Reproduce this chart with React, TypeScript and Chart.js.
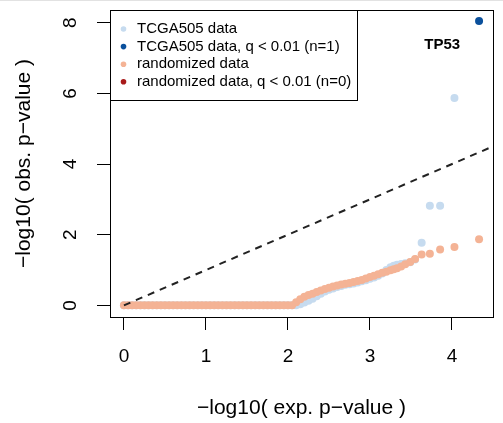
import { useEffect, useRef } from 'react';
import { Chart, registerables } from 'chart.js';

Chart.register(...registerables);

const FONT = '"Liberation Sans", Arial, Helvetica, sans-serif';

// axis ticks
const xTicks = [0, 1, 2, 3, 4];
const yTicks = [0, 2, 4, 6, 8];

// series labels (legend order)
const labelTcga = 'TCGA505 data';
const labelTcgaSig = 'TCGA505 data, q < 0.01 (n=1)';
const labelRand = 'randomized data';
const labelRandSig = 'randomized data, q < 0.01 (n=0)';

// colours
const colTcga = '#C6DBEF';
const colTcgaSig = '#0B509C';
const colRand = '#F4B395';
const colRandSig = '#A81A1A';

// flat part of both QQ curves: expected -log10 p, observed = 0
const flatExp = [0, 0.05, 0.1, 0.15, 0.2, 0.25, 0.3, 0.35, 0.4, 0.45, 0.5, 0.55, 0.6, 0.65, 0.7, 0.75, 0.8, 0.85, 0.9, 0.95, 1, 1.05, 1.1, 1.15, 1.2, 1.25, 1.3, 1.35, 1.4, 1.45, 1.5, 1.55, 1.6, 1.65, 1.7, 1.75, 1.8, 1.85, 1.9, 1.95, 2, 2.05];
const flatObs = [0, 0, 0, 0, 0, 0, 0, 0, 0, 0, 0, 0, 0, 0, 0, 0, 0, 0, 0, 0, 0, 0, 0, 0, 0, 0, 0, 0, 0, 0, 0, 0, 0, 0, 0, 0, 0, 0, 0, 0, 0, 0];

// TCGA505 tail
const tcgaTailExp = [2.1, 2.15, 2.2, 2.25, 2.3, 2.35, 2.4, 2.45, 2.5, 2.55, 2.6, 2.65, 2.7, 2.75, 2.8, 2.85, 2.9, 2.95, 3.0, 3.05, 3.1, 3.15, 3.2, 3.25, 3.29, 3.33, 3.38, 3.43, 3.49, 3.55, 3.63, 3.73, 3.855, 4.03];
const tcgaTailObs = [0.0, 0.03, 0.08, 0.13, 0.19, 0.26, 0.33, 0.39, 0.44, 0.48, 0.52, 0.55, 0.58, 0.6, 0.62, 0.65, 0.68, 0.71, 0.75, 0.79, 0.84, 0.9, 1.0, 1.08, 1.12, 1.15, 1.17, 1.19, 1.22, 1.3, 1.77, 2.82, 2.82, 5.87];

// TCGA505 significant (q < 0.01)
const tcgaSigExp = [4.33];
const tcgaSigObs = [8.05];
const tcgaSigGene = 'TP53';
const geneLabelExp = 3.88;
const geneLabelObs = 7.37;

// randomized tail
const randTailExp = [2.1, 2.15, 2.2, 2.25, 2.3, 2.35, 2.4, 2.45, 2.5, 2.55, 2.6, 2.65, 2.7, 2.75, 2.8, 2.85, 2.9, 2.95, 3.0, 3.05, 3.1, 3.15, 3.2, 3.25, 3.29, 3.33, 3.38, 3.43, 3.49, 3.55, 3.63, 3.73, 3.855, 4.03, 4.33];
const randTailObs = [0.09, 0.17, 0.24, 0.29, 0.33, 0.38, 0.42, 0.46, 0.5, 0.53, 0.56, 0.59, 0.61, 0.63, 0.66, 0.69, 0.72, 0.76, 0.8, 0.84, 0.88, 0.92, 0.95, 0.99, 1.02, 1.05, 1.1, 1.16, 1.23, 1.31, 1.44, 1.46, 1.58, 1.65, 1.87];

// randomized significant: none
const randSigExp: number[] = [];
const randSigObs: number[] = [];

// y = x reference line
const refExp = [0, 4.7];
const refObs = [0, 4.7];

const toPoints = (xs: number[], ys: number[]) => xs.map((x, i) => ({ x, y: ys[i] }));

const framePlugin = {
  id: 'frameLegendLabel',
  afterDraw(chart: any) {
    const ctx = chart.ctx as CanvasRenderingContext2D;
    const { left, top, right, bottom } = chart.chartArea;
    const xs = chart.scales.x;
    const ys = chart.scales.y;
    ctx.save();
    // plot box
    ctx.strokeStyle = '#000';
    ctx.lineWidth = 1;
    ctx.strokeRect(Math.round(left) + 0.5, Math.round(top) + 0.5, Math.round(right - left), Math.round(bottom - top));

    // y tick labels, rotated as in R (las = 0)
    ctx.fillStyle = '#000';
    ctx.font = `19px ${FONT}`;
    ctx.textAlign = 'center';
    ctx.textBaseline = 'middle';
    ys.ticks.forEach((t: any) => {
      ctx.save();
      ctx.translate(left - 39, ys.getPixelForValue(t.value));
      ctx.rotate(-Math.PI / 2);
      ctx.fillText(String(t.value), 0, 0);
      ctx.restore();
    });

    // gene label
    ctx.font = `bold 15px ${FONT}`;
    ctx.fillText(tcgaSigGene, xs.getPixelForValue(geneLabelExp), ys.getPixelForValue(geneLabelObs));

    // legend (top-left, inside the plot box)
    const items = chart.data.datasets.filter((d: any) => d.inLegend);
    ctx.font = `15px ${FONT}`;
    ctx.textAlign = 'left';
    let maxW = 0;
    items.forEach((d: any) => { maxW = Math.max(maxW, ctx.measureText(d.label).width); });
    const lx = Math.round(left) + 0.5;
    const ly = Math.round(top) + 0.5;
    const textOff = 26.5;
    const lw = Math.round(textOff + maxW + 6);
    const rowH = 17.6;
    const lh = Math.round(18.5 + rowH * (items.length - 1) + 18.5);
    ctx.fillStyle = '#fff';
    ctx.fillRect(lx, ly, lw, lh);
    ctx.strokeStyle = '#000';
    ctx.strokeRect(lx, ly, lw, lh);
    items.forEach((d: any, i: number) => {
      const cy = ly + 18.5 + i * rowH;
      ctx.beginPath();
      ctx.fillStyle = d.backgroundColor;
      ctx.arc(lx + 13, cy, 2.8, 0, Math.PI * 2);
      ctx.fill();
      ctx.fillStyle = '#000';
      ctx.fillText(d.label, lx + textOff, cy);
    });
    ctx.restore();
  },
};

export default function App() {
  const ref = useRef<HTMLCanvasElement>(null);
  useEffect(() => {
    const pointDs = (label: string, color: string, data: any[], order: number) => ({
      type: 'scatter' as const,
      label,
      data,
      backgroundColor: color,
      borderColor: color,
      borderWidth: 0,
      pointRadius: 4,
      pointHoverRadius: 4,
      showLine: false,
      order,
      inLegend: true,
    });
    const chart = new Chart(ref.current as HTMLCanvasElement, {
      type: 'scatter',
      data: {
        datasets: [
          pointDs(labelTcga, colTcga, toPoints([...flatExp, ...tcgaTailExp], [...flatObs, ...tcgaTailObs]), 3),
          pointDs(labelTcgaSig, colTcgaSig, toPoints(tcgaSigExp, tcgaSigObs), 1),
          pointDs(labelRand, colRand, toPoints([...flatExp, ...randTailExp], [...flatObs, ...randTailObs]), 2),
          pointDs(labelRandSig, colRandSig, toPoints(randSigExp, randSigObs), 4),
          {
            type: 'line' as const,
            label: 'y = x',
            data: toPoints(refExp, refObs),
            borderColor: '#222',
            borderWidth: 2,
            borderDash: [7, 6],
            pointRadius: 0,
            fill: false,
            order: 0,
            inLegend: false,
          } as any,
        ],
      },
      options: {
        responsive: false,
        animation: false,
        devicePixelRatio: 1,
        layout: { padding: { left: 0, top: 10, right: 10, bottom: 0 } },
        plugins: { legend: { display: false }, tooltip: { enabled: false } },
        scales: {
          x: {
            type: 'linear',
            position: 'bottom',
            min: -0.17,
            max: 4.5,
            afterBuildTicks: (s: any) => { s.ticks = xTicks.map((v) => ({ value: v })); },
            afterFit: (s: any) => { s.height = 106; },
            grid: { display: true, drawOnChartArea: false, drawTicks: true, tickLength: 13, color: '#000', lineWidth: 1 },
            border: { display: false },
            ticks: { font: { size: 19, family: FONT }, color: '#000', padding: 15, maxRotation: 0, autoSkip: false },
            title: { display: true, text: '\u2212log10( exp. p\u2212value )', color: '#000', font: { size: 21, family: FONT }, padding: { top: 0, bottom: 2 } },
          },
          y: {
            type: 'linear',
            position: 'left',
            min: -0.33,
            max: 8.36,
            afterBuildTicks: (s: any) => { s.ticks = yTicks.map((v) => ({ value: v })); },
            afterFit: (s: any) => { s.width = 110; },
            grid: { display: true, drawOnChartArea: false, drawTicks: true, tickLength: 13, color: '#000', lineWidth: 1 },
            border: { display: false },
            ticks: { display: false, autoSkip: false },
            title: { display: true, text: '\u2212log10( obs. p\u2212value )', color: '#000', font: { size: 21, family: FONT }, padding: { top: 12, bottom: 0 } },
          },
        },
      } as any,
      plugins: [framePlugin],
    });
    return () => chart.destroy();
  }, []);
  return (
    <div style={{ position: 'fixed', left: 0, top: 0, width: 503, height: 423, background: '#fff' }}>
      <canvas ref={ref} width={503} height={423} style={{ display: 'block' }} />
      <div style={{ position: 'absolute', left: 0, top: 0, width: 503, height: 1, background: '#e2e2e2' }} />
    </div>
  );
}
